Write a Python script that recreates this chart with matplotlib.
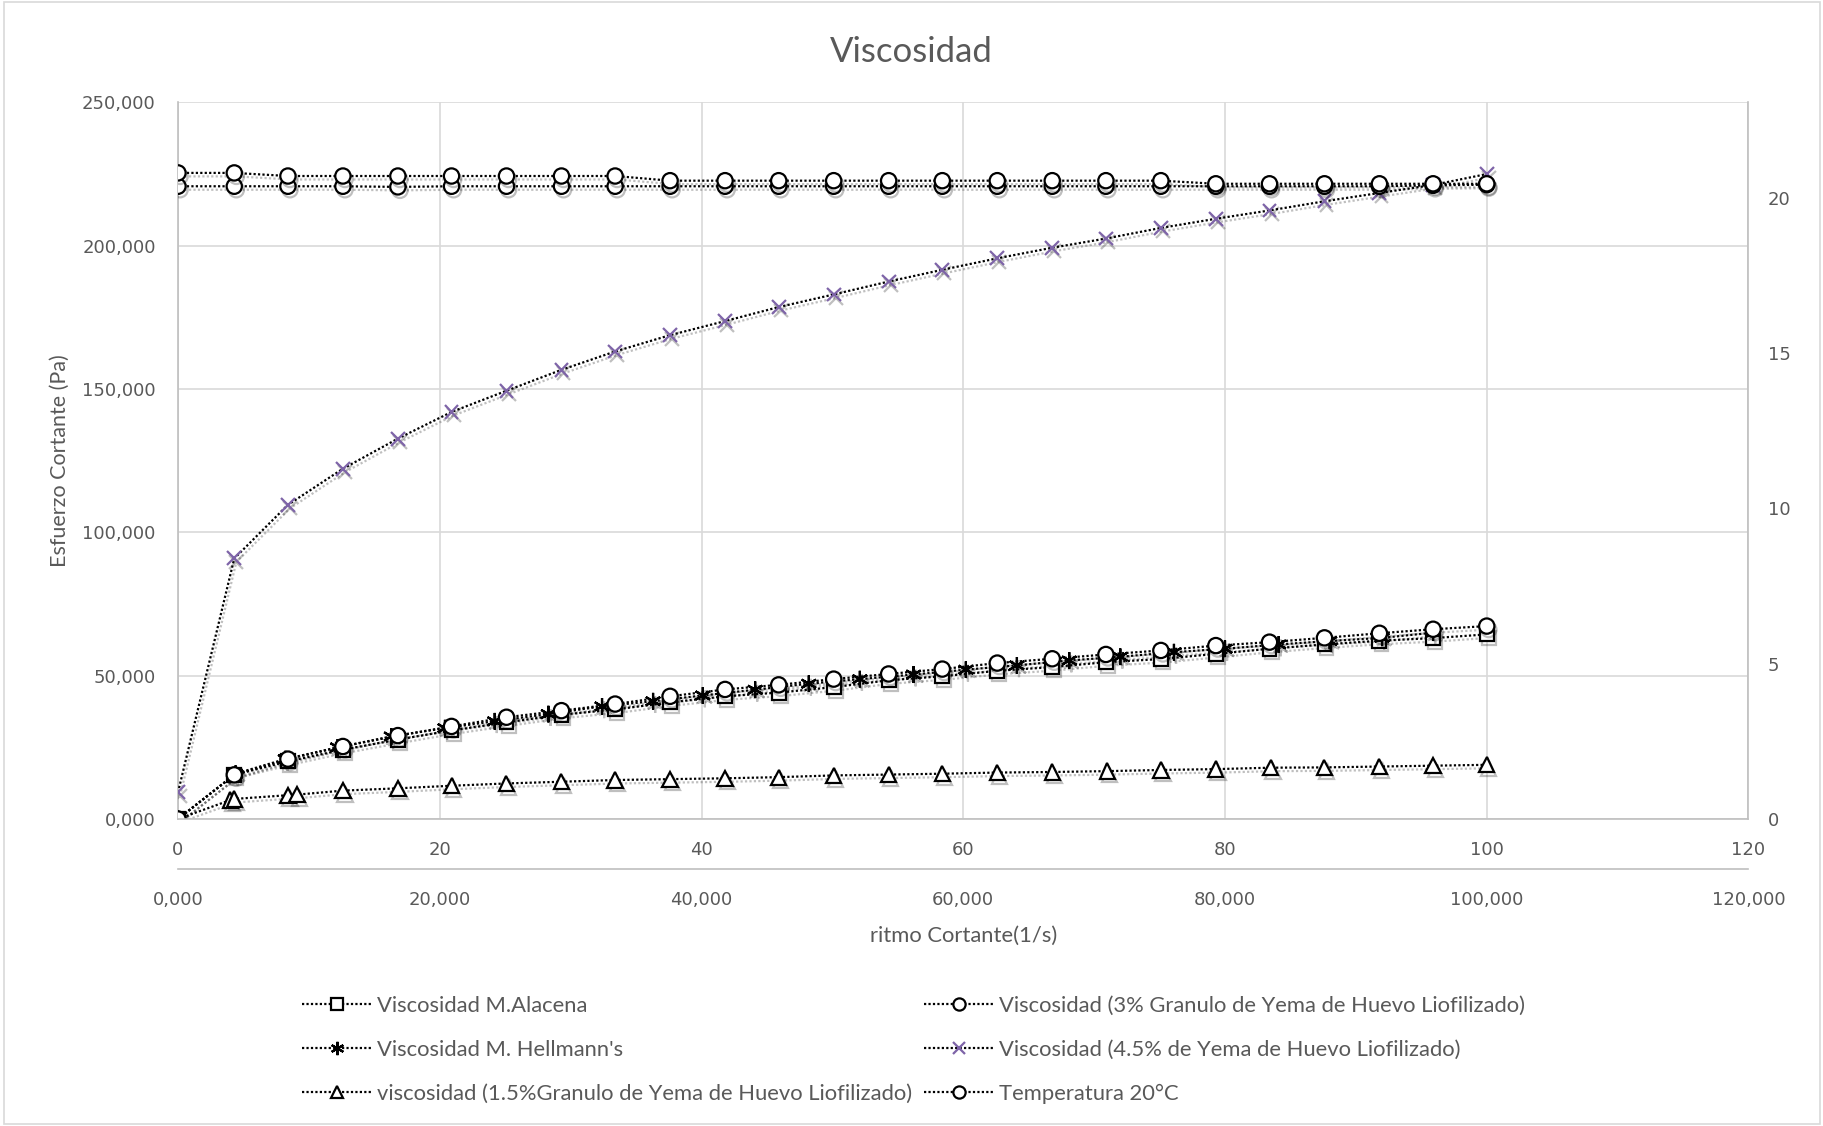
import numpy as np
import matplotlib
matplotlib.use("Agg")
import matplotlib.pyplot as plt
import matplotlib.patheffects as pe

# shear rate (1/s)
x_std = [0, 4.3, 8.4, 12.6, 16.8, 20.9, 25.1, 29.3, 33.4, 37.6, 41.8, 45.9, 50.1,
         54.3, 58.4, 62.6, 66.8, 70.9, 75.1, 79.3, 83.4, 87.6, 91.8, 95.9, 100]
x_hellmann = [0, 4.4, 8.2, 12.2, 16.3, 20.4, 24.2, 28.3, 32.4, 36.3, 40.1, 44.1, 48.2,
              52.1, 56.2, 60.2, 64.1, 68.1, 72.0, 76.1, 80.0, 84.1, 88.0, 92.0, 95.9]
x_granulo15 = [0, 4.0, 4.3, 8.4, 9.1, 12.6, 16.8, 20.9, 25.1, 29.3, 33.4, 37.6, 41.8, 45.9,
               50.1, 54.3, 58.4, 62.6, 66.8, 71.0, 75.1, 79.3, 83.5, 87.6, 91.8, 95.9, 100]

# shear stress (Pa)
alacena = [0, 15.4, 20.1, 24.2, 27.7, 30.9, 33.7, 36.4, 38.2, 40.7, 42.8, 44.1, 46.0,
           48.4, 49.8, 51.7, 53.0, 54.7, 55.8, 57.6, 59.4, 60.9, 62.2, 63.1, 64.4]
granulo3 = [0, 15.4, 20.9, 25.3, 29.1, 32.3, 35.5, 37.8, 40.1, 42.8, 45.2, 46.8, 48.8,
            50.6, 52.3, 54.4, 55.9, 57.4, 58.8, 60.5, 61.7, 63.2, 64.8, 66.2, 67.3]
hellmann = [0, 15.8, 20.9, 25.0, 28.8, 31.7, 34.1, 36.6, 39.3, 41.1, 43.1, 45.1, 47.2,
            48.8, 50.4, 52.1, 53.6, 55.3, 56.6, 58.2, 59.4, 60.9, 62.1, 63.2, 65.0]
yema45 = [9.3, 90.9, 109.6, 122.2, 132.7, 142.0, 149.4, 156.7, 163.1, 168.8, 173.7, 178.6, 183.0,
          187.5, 191.6, 195.6, 199.3, 202.5, 206.2, 209.4, 212.3, 215.5, 218.4, 221.2, 225.0]
granulo15 = [0, 6.6, 7.0, 8.3, 8.5, 9.9, 10.7, 11.6, 12.4, 13.0, 13.6, 13.9, 14.2, 14.6,
             15.2, 15.5, 15.8, 16.2, 16.4, 16.7, 17.1, 17.4, 17.9, 18.0, 18.3, 18.6, 18.9]

# temperature (°C), secondary axis
temp_a = [20.8, 20.8, 20.7, 20.7, 20.7, 20.7, 20.7, 20.7, 20.7, 20.55, 20.55, 20.55, 20.55,
          20.55, 20.55, 20.55, 20.55, 20.55, 20.55, 20.45, 20.45, 20.45, 20.45, 20.45, 20.45]
temp_b = [20.37, 20.37, 20.37, 20.37, 20.35, 20.37, 20.37, 20.37, 20.37, 20.37, 20.37, 20.37, 20.37,
          20.37, 20.37, 20.37, 20.37, 20.37, 20.37, 20.37, 20.37, 20.37, 20.37, 20.4, 20.42]

GREY_TXT = "#595959"
GRID = "#D9D9D9"
AXLINE = "#BFBFBF"
PURPLE = "#7E64A8"

plt.rcParams["font.family"] = ["Lato", "DejaVu Sans"]

W, H = 1824, 1126
fig = plt.figure(figsize=(W / 100, H / 100), dpi=100)
fig.patches.append(plt.Rectangle((0.002, 0.002), 0.996, 0.996, transform=fig.transFigure,
                                 fill=False, edgecolor=GRID, lw=1.2))

rect = [178 / W, 1 - 819 / H, (1748.5 - 178) / W, (819 - 102.4) / H]
ax = fig.add_axes(rect)
ax2 = fig.add_axes(rect, frameon=True)
ax2.patch.set_visible(False)

shadow = [pe.SimpleLineShadow(offset=(1.5, -2.5), shadow_color="k", alpha=0.25), pe.Normal()]
dot = (0, (1, 1))


def series(a, x, y, marker, label, ms=10, color="black", fc="white"):
    a.plot(x, y, linestyle=dot, color="black", lw=1.6, marker=marker, ms=ms,
           mec=color, mfc=fc, mew=1.6, label=label, path_effects=shadow, zorder=3)


series(ax, x_std, alacena, "s", "Viscosidad M.Alacena", ms=10)
series(ax, x_hellmann, hellmann, (6, 2, 0), "Viscosidad M. Hellmann's", ms=12)
series(ax, x_granulo15, granulo15, "^", "viscosidad (1.5%Granulo de Yema de Huevo Liofilizado)", ms=11)
series(ax, x_std, granulo3, "o", "Viscosidad (3% Granulo de Yema de Huevo Liofilizado)", ms=11)
series(ax, x_std, yema45, "x", "Viscosidad (4.5% de Yema de Huevo Liofilizado)", ms=10, color=PURPLE)
series(ax2, x_std, temp_b, "o", "_nolegend_", ms=11)
series(ax2, x_std, temp_a, "o", "Temperatura 20°C", ms=11)

# primary axes
ticks_x = np.arange(0, 121, 20)
ticks_y = np.arange(0, 251, 50)
ax.set_xlim(0, 120)
ax.set_ylim(0, 250)
ax.set_xticks(ticks_x)
ax.set_xticklabels([f"{v:.3f}".replace(".", ",") for v in ticks_x])
ax.set_yticks(ticks_y)
ax.set_yticklabels([f"{v:.3f}".replace(".", ",") for v in ticks_y])
ax.grid(True, color=GRID, lw=1.2)
ax.set_axisbelow(True)
for s in ["top", "right"]:
    ax.spines[s].set_visible(False)
ax.spines["left"].set_color(AXLINE)
ax.spines["bottom"].set_color(AXLINE)
ax.spines["bottom"].set_position(("outward", 36))
ax.spines["left"].set_linewidth(1.2)
ax.spines["bottom"].set_linewidth(1.2)
ax.tick_params(length=0, labelsize=13, labelcolor=GREY_TXT, labelfontfamily="DejaVu Sans")
ax.tick_params(axis="y", pad=16)
ax.tick_params(axis="x", pad=16)
ax.set_xlabel("ritmo Cortante(1/s)", fontsize=15.8, color=GREY_TXT, labelpad=12)
ax.set_ylabel("Esfuerzo Cortante (Pa)", fontsize=15.5, color=GREY_TXT, labelpad=9)

# secondary axes
ax2.set_xlim(0, 120)
ax2.set_ylim(0, 23.07)
ax2.set_xticks(ticks_x)
ax2.set_yticks(np.arange(0, 21, 5))
ax2.yaxis.tick_right()
for s in ["top", "left"]:
    ax2.spines[s].set_visible(False)
ax2.spines["right"].set_color(AXLINE)
ax2.spines["bottom"].set_color(AXLINE)
ax2.spines["right"].set_linewidth(1.2)
ax2.spines["bottom"].set_linewidth(1.2)
ax2.tick_params(length=0, labelsize=13, labelcolor=GREY_TXT, labelfontfamily="DejaVu Sans")
ax2.tick_params(axis="x", pad=16)
ax2.tick_params(axis="y", pad=14)

fig.text(911 / W, 1 - 52 / H, "Viscosidad", ha="center", va="center", fontsize=25, color=GREY_TXT)

h1, l1 = ax.get_legend_handles_labels()
h2, l2 = ax2.get_legend_handles_labels()
leg = fig.legend(h1 + h2, l1 + l2, ncol=2, loc="upper left", bbox_to_anchor=(282 / W, 1 - 976 / H),
                 frameon=False, fontsize=15.8, handlelength=3.2, handletextpad=0.25,
                 columnspacing=0.5, labelspacing=1.1, markerscale=0.8)
for t in leg.get_texts():
    t.set_color(GREY_TXT)
for lh in leg.legend_handles:
    lh.set_path_effects([])

fig.savefig("out.png", dpi=100)
